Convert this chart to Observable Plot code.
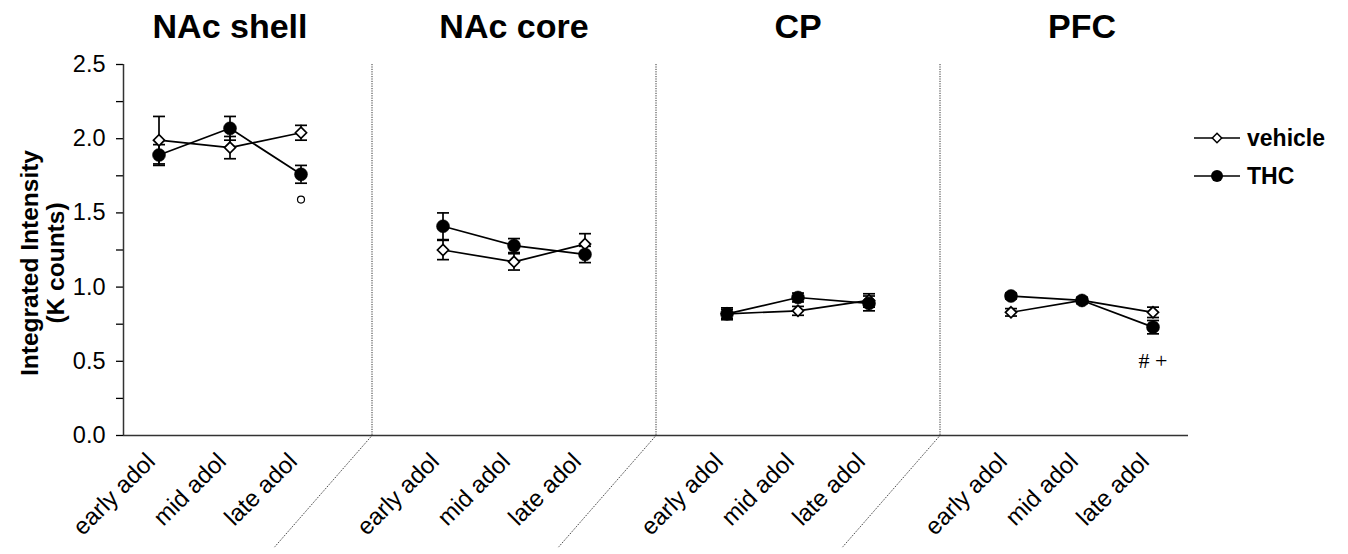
<!DOCTYPE html>
<html>
<head>
<meta charset="utf-8">
<script src="https://cdn.jsdelivr.net/npm/d3@7"></script>
<script src="https://cdn.jsdelivr.net/npm/@observablehq/plot@0.6"></script>
<style>
  html, body { margin: 0; padding: 0; background: #fff; }
  #wrap { position: relative; width: 1348px; height: 554px; font-family: "Liberation Sans", Arial, sans-serif; }
  #legend { position: absolute; left: 1194px; top: 119px; }
  .lg { display: flex; align-items: center; height: 38px; font-weight: bold; font-size: 23px; color: #000; }
  .lg svg { margin-right: 7px; }
</style>
</head>
<body>
<div id="wrap">
  <div id="chart"></div>
  <div id="legend"></div>
</div>
<script>
// ---- data ----
const regions = ["NAc shell", "NAc core", "CP", "PFC"];
const ages = ["early adol", "mid adol", "late adol"];
const seriesNames = ["vehicle", "THC"];

// means (K counts), in order region x age
const vehicleMean = [1.99, 1.94, 2.04,  1.25, 1.17, 1.29,  0.82, 0.84, 0.91,  0.83, 0.91, 0.83];
const vehicleSem  = [0.16, 0.075, 0.05, 0.065, 0.055, 0.07, 0.03, 0.03, 0.045, 0.025, 0.02, 0.035];
const thcMean     = [1.89, 2.07, 1.76,  1.41, 1.28, 1.22,  0.82, 0.93, 0.89,  0.94, 0.91, 0.73];
const thcSem      = [0.07, 0.08, 0.06,  0.09, 0.047, 0.055, 0.04, 0.03, 0.05, 0.02, 0.02, 0.045];

const yTicks = [0, 0.5, 1.0, 1.5, 2.0, 2.5];
const yMinorTicks = [0.25, 0.75, 1.25, 1.75, 2.25];

// significance marks: region, age, value, text
const sigRegion = ["NAc shell", "PFC"];
const sigAge = ["late adol", "late adol"];
const sigValue = [1.59, 0.50];
const sigText = ["○", "# +"];

// ---- derived table ----
const slotOf = (r, a) => r * 4 + a;          // one empty slot between regions
const rows = [];
regions.forEach((reg, r) => ages.forEach((age, a) => {
  const i = r * 3 + a;
  rows.push({series: "vehicle", region: reg, slot: slotOf(r, a), v: vehicleMean[i], e: vehicleSem[i]});
  rows.push({series: "THC", region: reg, slot: slotOf(r, a), v: thcMean[i], e: thcSem[i]});
}));
const veh = rows.filter(d => d.series === "vehicle");
const thc = rows.filter(d => d.series === "THC");
const separators = regions.slice(1).map((_, r) => slotOf(r, 3));
const titles = regions.map((reg, r) => ({reg, slot: slotOf(r, 1)}));
const sig = sigRegion.map((reg, k) => ({
  slot: slotOf(regions.indexOf(reg), ages.indexOf(sigAge[k])), v: sigValue[k], t: sigText[k]
}));
const tickSlots = rows.filter(d => d.series === "vehicle").map(d => d.slot);
const slantX = -1.38, slantY = -0.756;   // slanted break lines below the axis

const capSymbol = {draw(ctx, size) { const r = Math.sqrt(size / Math.PI); ctx.moveTo(-r, 0); ctx.lineTo(r, 0); }};

const chart = Plot.plot({
  width: 1348, height: 554,
  marginLeft: 123, marginRight: 160, marginTop: 64, marginBottom: 119,
  style: {fontFamily: "'Liberation Sans', Arial, sans-serif", color: "#000", background: "#fff", overflow: "visible"},
  x: {type: "linear", domain: [-0.5, 14.5], axis: null},
  y: {domain: [0, 2.5], axis: null},
  marks: [
    // separators
    Plot.ruleX(separators, {x: d => d, stroke: "#333", strokeWidth: 1, strokeDasharray: "1.2 1.2"}),
    Plot.link(separators, {x1: d => d, y1: 0, x2: d => d + slantX, y2: slantY, stroke: "#333", strokeWidth: 1, strokeDasharray: "1.2 1.2"}),
    // axes
    Plot.axisY(yMinorTicks, {tickSize: 7, tickFormat: () => "", label: null, strokeWidth: 1.3}),
    Plot.axisY(yTicks, {tickSize: 7, tickPadding: 11, tickFormat: d => d.toFixed(1), fontSize: 23.5, label: null, strokeWidth: 1.3}),
    Plot.axisX(tickSlots, {tickSize: 0, tickPadding: 22, dx: -8, tickRotate: -45, tickFormat: s => ages[s % 4], fontSize: 24, label: null}),
    Plot.ruleX([-0.5], {stroke: "#333", strokeWidth: 1.5}),
    Plot.ruleY([0], {stroke: "#333", strokeWidth: 1.5}),
    // y axis title
    Plot.text(["Integrated Intensity\n(K counts)"], {frameAnchor: "left", rotate: -90, dx: -81, dy: 13, fontSize: 24.5, fontWeight: "bold", lineHeight: 1.06, lineAnchor: "middle", textAnchor: "middle"}),
    // panel titles
    Plot.text(titles, {x: "slot", y: () => 2.5, text: "reg", dy: -37, fontSize: 34, fontWeight: "bold", lineAnchor: "middle"}),
    // lines
    Plot.line(rows, {x: "slot", y: "v", z: d => d.series + d.region, stroke: "#000", strokeWidth: 1.7}),
    // error bars
    Plot.ruleX(rows, {x: "slot", y1: d => d.v - d.e, y2: d => d.v + d.e, stroke: "#000", strokeWidth: 1.7}),
    Plot.dot(rows, {x: "slot", y: d => d.v - d.e, symbol: capSymbol, r: 6, stroke: "#000", strokeWidth: 1.7}),
    Plot.dot(rows, {x: "slot", y: d => d.v + d.e, symbol: capSymbol, r: 6, stroke: "#000", strokeWidth: 1.7}),
    // markers
    Plot.dot(veh, {x: "slot", y: "v", symbol: "diamond2", r: 5, fill: "#fff", stroke: "#000", strokeWidth: 1.7}),
    Plot.dot(thc, {x: "slot", y: "v", symbol: "circle", r: 6.5, fill: "#000", stroke: "#000", strokeWidth: 0.5}),
    // significance marks
    Plot.dot(sig.filter(d => d.t === "○"), {x: "slot", y: "v", r: 3.5, fill: "#fff", stroke: "#000", strokeWidth: 1.2}),
    Plot.text(sig.filter(d => d.t !== "○"), {x: "slot", y: "v", text: "t", fontSize: 22, fontFamily: "'Liberation Serif', serif"})
  ]
});
document.getElementById("chart").appendChild(chart);

// legend
const legend = d3.select("#legend");
seriesNames.forEach(name => {
  const row = legend.append("div").attr("class", "lg");
  const svg = row.append("svg").attr("width", 46).attr("height", 20);
  svg.append("line").attr("x1", 0).attr("x2", 46).attr("y1", 10).attr("y2", 10).attr("stroke", "#000").attr("stroke-width", 1.6);
  if (name === "vehicle") {
    svg.append("path").attr("d", d3.symbol(d3.symbolDiamond2, 56)()).attr("transform", "translate(23,10)")
      .attr("fill", "#fff").attr("stroke", "#000").attr("stroke-width", 1.5);
  } else {
    svg.append("circle").attr("cx", 23).attr("cy", 10).attr("r", 6).attr("fill", "#000");
  }
  row.append("span").text(name);
});
</script>
</body>
</html>
